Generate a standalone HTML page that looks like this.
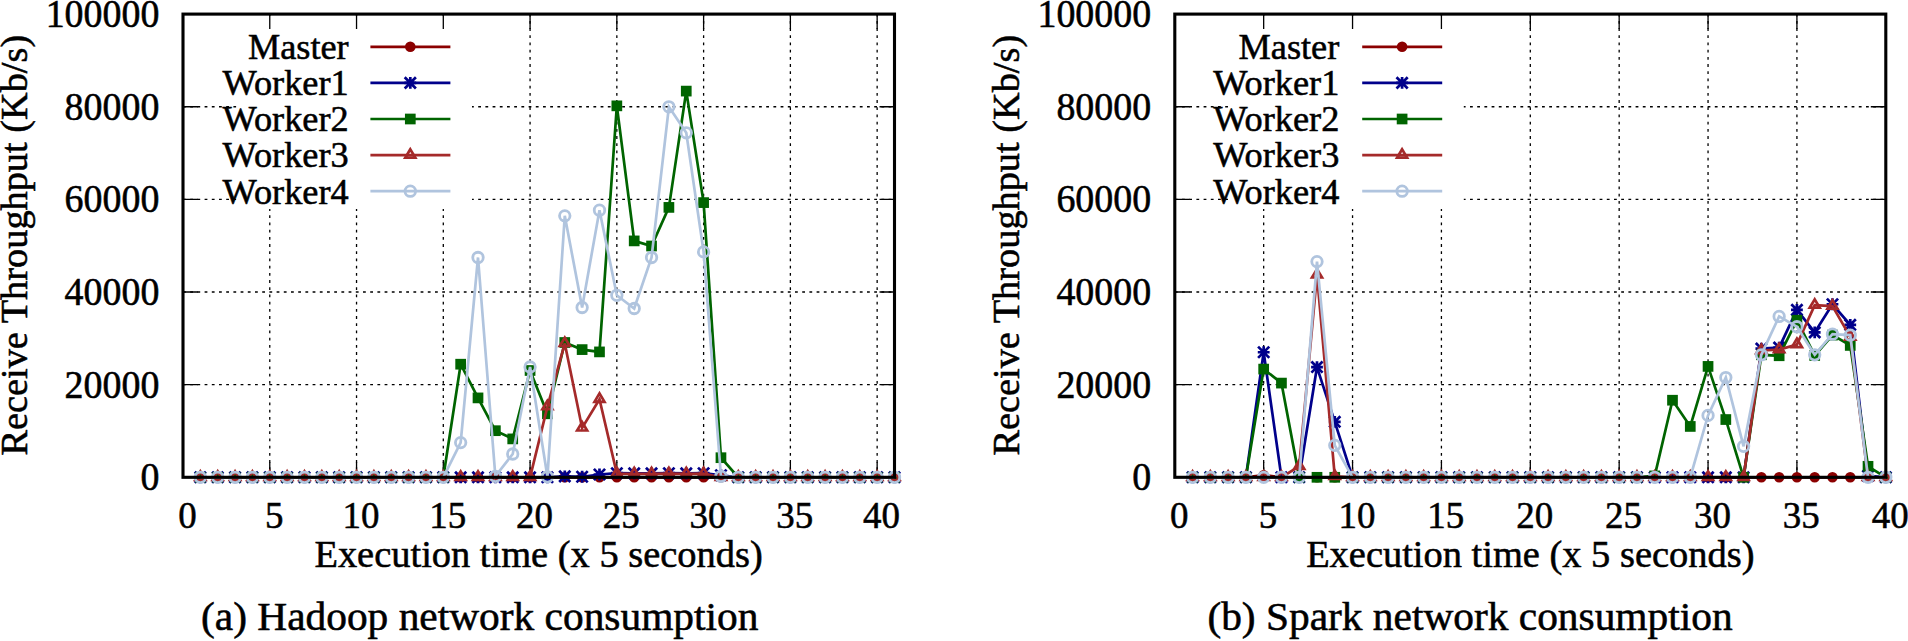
<!DOCTYPE html>
<html><head><meta charset="utf-8"><title>Network consumption</title>
<style>
html,body{margin:0;padding:0;background:#fff;}
body{width:1908px;height:641px;overflow:hidden;}
svg{display:block;}
svg text{font-family:"Liberation Serif",serif;fill:#000;stroke:#000;stroke-width:0.55px;}
</style></head><body>
<svg width="1908" height="641" viewBox="0 0 1908 641">
<rect width="1908" height="641" fill="#fff"/>
<g id="plot-a">
<path d="M269.77 477.3V14.1M356.54 477.3V14.1M443.3 477.3V14.1M530.07 477.3V14.1M616.84 477.3V14.1M703.61 477.3V14.1M790.38 477.3V14.1M877.15 477.3V14.1M183 384.66H894.5M183 292.02H894.5M183 199.38H894.5M183 106.74H894.5" stroke="#000" stroke-width="1.3" stroke-dasharray="2.8 4.4" fill="none"/>
<rect x="236.5" y="16.1" width="235.5" height="192.9" fill="#fff"/>
<text x="348.7" y="59.1" text-anchor="end" font-size="36.3">Master</text>
<path d="M370.4 46.8H450.4" stroke="#8b0000" stroke-width="2.7"/>
<circle cx="410.3" cy="46.8" r="5.3" fill="#8b0000"/>
<text x="348.7" y="95.2" text-anchor="end" font-size="36.3">Worker1</text>
<path d="M370.4 82.9H450.4" stroke="#00008b" stroke-width="2.7"/>
<path d="M404.4 82.9H416.2M410.3 77V88.8M404.7 77.3L415.9 88.5M404.7 88.5L415.9 77.3" stroke="#00008b" stroke-width="2.7" fill="none"/>
<text x="348.7" y="131.3" text-anchor="end" font-size="36.3">Worker2</text>
<path d="M370.4 119H450.4" stroke="#006400" stroke-width="2.7"/>
<rect x="404.95" y="113.65" width="10.7" height="10.7" fill="#006400"/>
<text x="348.7" y="167.4" text-anchor="end" font-size="36.3">Worker3</text>
<path d="M370.4 155.1H450.4" stroke="#a52a2a" stroke-width="2.7"/>
<path d="M410.3 149.3L405.3 157.7L415.3 157.7Z" stroke="#a52a2a" stroke-width="2.7" fill="none" stroke-linejoin="miter" stroke-miterlimit="10"/>
<text x="348.7" y="203.5" text-anchor="end" font-size="36.3">Worker4</text>
<path d="M370.4 191.2H450.4" stroke="#b0c4de" stroke-width="2.7"/>
<circle cx="410.3" cy="191.2" r="5.25" stroke="#b0c4de" stroke-width="2.8" fill="none"/>
<path d="M269.77 477.3v-15M269.77 14.1v15M356.54 477.3v-15M356.54 14.1v15M443.3 477.3v-15M443.3 14.1v15M530.07 477.3v-15M530.07 14.1v15M616.84 477.3v-15M616.84 14.1v15M703.61 477.3v-15M703.61 14.1v15M790.38 477.3v-15M790.38 14.1v15M877.15 477.3v-15M877.15 14.1v15M183 384.66h15M894.5 384.66h-15M183 292.02h15M894.5 292.02h-15M183 199.38h15M894.5 199.38h-15M183 106.74h15M894.5 106.74h-15" stroke="#000" stroke-width="1.3" fill="none"/>
<polyline points="200.35,477.3 217.71,477.3 235.06,477.3 252.41,477.3 269.77,477.3 287.12,477.3 304.48,477.3 321.83,477.3 339.18,477.3 356.54,477.3 373.89,477.3 391.24,477.3 408.6,477.3 425.95,477.3 443.3,477.3 460.66,477.3 478.01,477.3 495.37,477.3 512.72,477.3 530.07,477.3 547.43,477.3 564.78,477.3 582.13,477.3 599.49,477.3 616.84,477.3 634.2,477.3 651.55,477.3 668.9,477.3 686.26,477.3 703.61,477.3 720.96,477.3 738.32,477.3 755.67,477.3 773.02,477.3 790.38,477.3 807.73,477.3 825.09,477.3 842.44,477.3 859.79,477.3 877.15,477.3 894.5,477.3" stroke="#8b0000" stroke-width="2.7" fill="none" stroke-linejoin="miter"/>
<circle cx="200.35" cy="477.3" r="5.3" fill="#8b0000"/>
<circle cx="217.71" cy="477.3" r="5.3" fill="#8b0000"/>
<circle cx="235.06" cy="477.3" r="5.3" fill="#8b0000"/>
<circle cx="252.41" cy="477.3" r="5.3" fill="#8b0000"/>
<circle cx="269.77" cy="477.3" r="5.3" fill="#8b0000"/>
<circle cx="287.12" cy="477.3" r="5.3" fill="#8b0000"/>
<circle cx="304.48" cy="477.3" r="5.3" fill="#8b0000"/>
<circle cx="321.83" cy="477.3" r="5.3" fill="#8b0000"/>
<circle cx="339.18" cy="477.3" r="5.3" fill="#8b0000"/>
<circle cx="356.54" cy="477.3" r="5.3" fill="#8b0000"/>
<circle cx="373.89" cy="477.3" r="5.3" fill="#8b0000"/>
<circle cx="391.24" cy="477.3" r="5.3" fill="#8b0000"/>
<circle cx="408.6" cy="477.3" r="5.3" fill="#8b0000"/>
<circle cx="425.95" cy="477.3" r="5.3" fill="#8b0000"/>
<circle cx="443.3" cy="477.3" r="5.3" fill="#8b0000"/>
<circle cx="460.66" cy="477.3" r="5.3" fill="#8b0000"/>
<circle cx="478.01" cy="477.3" r="5.3" fill="#8b0000"/>
<circle cx="495.37" cy="477.3" r="5.3" fill="#8b0000"/>
<circle cx="512.72" cy="477.3" r="5.3" fill="#8b0000"/>
<circle cx="530.07" cy="477.3" r="5.3" fill="#8b0000"/>
<circle cx="547.43" cy="477.3" r="5.3" fill="#8b0000"/>
<circle cx="564.78" cy="477.3" r="5.3" fill="#8b0000"/>
<circle cx="582.13" cy="477.3" r="5.3" fill="#8b0000"/>
<circle cx="599.49" cy="477.3" r="5.3" fill="#8b0000"/>
<circle cx="616.84" cy="477.3" r="5.3" fill="#8b0000"/>
<circle cx="634.2" cy="477.3" r="5.3" fill="#8b0000"/>
<circle cx="651.55" cy="477.3" r="5.3" fill="#8b0000"/>
<circle cx="668.9" cy="477.3" r="5.3" fill="#8b0000"/>
<circle cx="686.26" cy="477.3" r="5.3" fill="#8b0000"/>
<circle cx="703.61" cy="477.3" r="5.3" fill="#8b0000"/>
<circle cx="720.96" cy="477.3" r="5.3" fill="#8b0000"/>
<circle cx="738.32" cy="477.3" r="5.3" fill="#8b0000"/>
<circle cx="755.67" cy="477.3" r="5.3" fill="#8b0000"/>
<circle cx="773.02" cy="477.3" r="5.3" fill="#8b0000"/>
<circle cx="790.38" cy="477.3" r="5.3" fill="#8b0000"/>
<circle cx="807.73" cy="477.3" r="5.3" fill="#8b0000"/>
<circle cx="825.09" cy="477.3" r="5.3" fill="#8b0000"/>
<circle cx="842.44" cy="477.3" r="5.3" fill="#8b0000"/>
<circle cx="859.79" cy="477.3" r="5.3" fill="#8b0000"/>
<circle cx="877.15" cy="477.3" r="5.3" fill="#8b0000"/>
<circle cx="894.5" cy="477.3" r="5.3" fill="#8b0000"/>
<polyline points="200.35,477.3 217.71,477.3 235.06,477.3 252.41,477.3 269.77,477.3 287.12,477.3 304.48,477.3 321.83,477.3 339.18,477.3 356.54,477.3 373.89,477.3 391.24,477.3 408.6,477.3 425.95,477.3 443.3,477.3 460.66,477.3 478.01,477.3 495.37,477.3 512.72,477.3 530.07,477.3 547.43,477.3 564.78,476.37 582.13,476.74 599.49,474.52 616.84,473.22 634.2,473.32 651.55,473.32 668.9,473.22 686.26,473.32 703.61,473.22 720.96,475.22 738.32,477.3 755.67,477.3 773.02,477.3 790.38,477.3 807.73,477.3 825.09,477.3 842.44,477.3 859.79,477.3 877.15,477.3 894.5,477.3" stroke="#00008b" stroke-width="2.7" fill="none" stroke-linejoin="miter"/>
<path d="M194.45 477.3H206.25M200.35 471.4V483.2M194.75 471.7L205.95 482.9M194.75 482.9L205.95 471.7" stroke="#00008b" stroke-width="2.7" fill="none"/>
<path d="M211.81 477.3H223.61M217.71 471.4V483.2M212.11 471.7L223.31 482.9M212.11 482.9L223.31 471.7" stroke="#00008b" stroke-width="2.7" fill="none"/>
<path d="M229.16 477.3H240.96M235.06 471.4V483.2M229.46 471.7L240.66 482.9M229.46 482.9L240.66 471.7" stroke="#00008b" stroke-width="2.7" fill="none"/>
<path d="M246.51 477.3H258.31M252.41 471.4V483.2M246.81 471.7L258.01 482.9M246.81 482.9L258.01 471.7" stroke="#00008b" stroke-width="2.7" fill="none"/>
<path d="M263.87 477.3H275.67M269.77 471.4V483.2M264.17 471.7L275.37 482.9M264.17 482.9L275.37 471.7" stroke="#00008b" stroke-width="2.7" fill="none"/>
<path d="M281.22 477.3H293.02M287.12 471.4V483.2M281.52 471.7L292.72 482.9M281.52 482.9L292.72 471.7" stroke="#00008b" stroke-width="2.7" fill="none"/>
<path d="M298.58 477.3H310.38M304.48 471.4V483.2M298.88 471.7L310.08 482.9M298.88 482.9L310.08 471.7" stroke="#00008b" stroke-width="2.7" fill="none"/>
<path d="M315.93 477.3H327.73M321.83 471.4V483.2M316.23 471.7L327.43 482.9M316.23 482.9L327.43 471.7" stroke="#00008b" stroke-width="2.7" fill="none"/>
<path d="M333.28 477.3H345.08M339.18 471.4V483.2M333.58 471.7L344.78 482.9M333.58 482.9L344.78 471.7" stroke="#00008b" stroke-width="2.7" fill="none"/>
<path d="M350.64 477.3H362.44M356.54 471.4V483.2M350.94 471.7L362.14 482.9M350.94 482.9L362.14 471.7" stroke="#00008b" stroke-width="2.7" fill="none"/>
<path d="M367.99 477.3H379.79M373.89 471.4V483.2M368.29 471.7L379.49 482.9M368.29 482.9L379.49 471.7" stroke="#00008b" stroke-width="2.7" fill="none"/>
<path d="M385.34 477.3H397.14M391.24 471.4V483.2M385.64 471.7L396.84 482.9M385.64 482.9L396.84 471.7" stroke="#00008b" stroke-width="2.7" fill="none"/>
<path d="M402.7 477.3H414.5M408.6 471.4V483.2M403 471.7L414.2 482.9M403 482.9L414.2 471.7" stroke="#00008b" stroke-width="2.7" fill="none"/>
<path d="M420.05 477.3H431.85M425.95 471.4V483.2M420.35 471.7L431.55 482.9M420.35 482.9L431.55 471.7" stroke="#00008b" stroke-width="2.7" fill="none"/>
<path d="M437.4 477.3H449.2M443.3 471.4V483.2M437.7 471.7L448.9 482.9M437.7 482.9L448.9 471.7" stroke="#00008b" stroke-width="2.7" fill="none"/>
<path d="M454.76 477.3H466.56M460.66 471.4V483.2M455.06 471.7L466.26 482.9M455.06 482.9L466.26 471.7" stroke="#00008b" stroke-width="2.7" fill="none"/>
<path d="M472.11 477.3H483.91M478.01 471.4V483.2M472.41 471.7L483.61 482.9M472.41 482.9L483.61 471.7" stroke="#00008b" stroke-width="2.7" fill="none"/>
<path d="M489.47 477.3H501.27M495.37 471.4V483.2M489.77 471.7L500.97 482.9M489.77 482.9L500.97 471.7" stroke="#00008b" stroke-width="2.7" fill="none"/>
<path d="M506.82 477.3H518.62M512.72 471.4V483.2M507.12 471.7L518.32 482.9M507.12 482.9L518.32 471.7" stroke="#00008b" stroke-width="2.7" fill="none"/>
<path d="M524.17 477.3H535.97M530.07 471.4V483.2M524.47 471.7L535.67 482.9M524.47 482.9L535.67 471.7" stroke="#00008b" stroke-width="2.7" fill="none"/>
<path d="M541.53 477.3H553.33M547.43 471.4V483.2M541.83 471.7L553.03 482.9M541.83 482.9L553.03 471.7" stroke="#00008b" stroke-width="2.7" fill="none"/>
<path d="M558.88 476.37H570.68M564.78 470.47V482.27M559.18 470.77L570.38 481.97M559.18 481.97L570.38 470.77" stroke="#00008b" stroke-width="2.7" fill="none"/>
<path d="M576.23 476.74H588.03M582.13 470.84V482.64M576.53 471.14L587.73 482.34M576.53 482.34L587.73 471.14" stroke="#00008b" stroke-width="2.7" fill="none"/>
<path d="M593.59 474.52H605.39M599.49 468.62V480.42M593.89 468.92L605.09 480.12M593.89 480.12L605.09 468.92" stroke="#00008b" stroke-width="2.7" fill="none"/>
<path d="M610.94 473.22H622.74M616.84 467.32V479.12M611.24 467.62L622.44 478.82M611.24 478.82L622.44 467.62" stroke="#00008b" stroke-width="2.7" fill="none"/>
<path d="M628.3 473.32H640.1M634.2 467.42V479.22M628.6 467.72L639.8 478.92M628.6 478.92L639.8 467.72" stroke="#00008b" stroke-width="2.7" fill="none"/>
<path d="M645.65 473.32H657.45M651.55 467.42V479.22M645.95 467.72L657.15 478.92M645.95 478.92L657.15 467.72" stroke="#00008b" stroke-width="2.7" fill="none"/>
<path d="M663 473.22H674.8M668.9 467.32V479.12M663.3 467.62L674.5 478.82M663.3 478.82L674.5 467.62" stroke="#00008b" stroke-width="2.7" fill="none"/>
<path d="M680.36 473.32H692.16M686.26 467.42V479.22M680.66 467.72L691.86 478.92M680.66 478.92L691.86 467.72" stroke="#00008b" stroke-width="2.7" fill="none"/>
<path d="M697.71 473.22H709.51M703.61 467.32V479.12M698.01 467.62L709.21 478.82M698.01 478.82L709.21 467.62" stroke="#00008b" stroke-width="2.7" fill="none"/>
<path d="M715.06 475.22H726.86M720.96 469.32V481.12M715.36 469.62L726.56 480.82M715.36 480.82L726.56 469.62" stroke="#00008b" stroke-width="2.7" fill="none"/>
<path d="M732.42 477.3H744.22M738.32 471.4V483.2M732.72 471.7L743.92 482.9M732.72 482.9L743.92 471.7" stroke="#00008b" stroke-width="2.7" fill="none"/>
<path d="M749.77 477.3H761.57M755.67 471.4V483.2M750.07 471.7L761.27 482.9M750.07 482.9L761.27 471.7" stroke="#00008b" stroke-width="2.7" fill="none"/>
<path d="M767.12 477.3H778.92M773.02 471.4V483.2M767.42 471.7L778.62 482.9M767.42 482.9L778.62 471.7" stroke="#00008b" stroke-width="2.7" fill="none"/>
<path d="M784.48 477.3H796.28M790.38 471.4V483.2M784.78 471.7L795.98 482.9M784.78 482.9L795.98 471.7" stroke="#00008b" stroke-width="2.7" fill="none"/>
<path d="M801.83 477.3H813.63M807.73 471.4V483.2M802.13 471.7L813.33 482.9M802.13 482.9L813.33 471.7" stroke="#00008b" stroke-width="2.7" fill="none"/>
<path d="M819.19 477.3H830.99M825.09 471.4V483.2M819.49 471.7L830.69 482.9M819.49 482.9L830.69 471.7" stroke="#00008b" stroke-width="2.7" fill="none"/>
<path d="M836.54 477.3H848.34M842.44 471.4V483.2M836.84 471.7L848.04 482.9M836.84 482.9L848.04 471.7" stroke="#00008b" stroke-width="2.7" fill="none"/>
<path d="M853.89 477.3H865.69M859.79 471.4V483.2M854.19 471.7L865.39 482.9M854.19 482.9L865.39 471.7" stroke="#00008b" stroke-width="2.7" fill="none"/>
<path d="M871.25 477.3H883.05M877.15 471.4V483.2M871.55 471.7L882.75 482.9M871.55 482.9L882.75 471.7" stroke="#00008b" stroke-width="2.7" fill="none"/>
<path d="M888.6 477.3H900.4M894.5 471.4V483.2M888.9 471.7L900.1 482.9M888.9 482.9L900.1 471.7" stroke="#00008b" stroke-width="2.7" fill="none"/>
<polyline points="200.35,477.3 217.71,477.3 235.06,477.3 252.41,477.3 269.77,477.3 287.12,477.3 304.48,477.3 321.83,477.3 339.18,477.3 356.54,477.3 373.89,477.3 391.24,477.3 408.6,477.3 425.95,477.3 443.3,477.3 460.66,364.2 478.01,397.9 495.37,430.7 512.72,438.9 530.07,370.5 547.43,413.8 564.78,342.5 582.13,349.6 599.49,351.9 616.84,105.85 634.2,240.9 651.55,246 668.9,207.4 686.26,91.1 703.61,202.6 720.96,457.7 738.32,477.3 755.67,477.3 773.02,477.3 790.38,477.3 807.73,477.3 825.09,477.3 842.44,477.3 859.79,477.3 877.15,477.3 894.5,477.3" stroke="#006400" stroke-width="2.7" fill="none" stroke-linejoin="miter"/>
<rect x="195" y="471.95" width="10.7" height="10.7" fill="#006400"/>
<rect x="212.36" y="471.95" width="10.7" height="10.7" fill="#006400"/>
<rect x="229.71" y="471.95" width="10.7" height="10.7" fill="#006400"/>
<rect x="247.06" y="471.95" width="10.7" height="10.7" fill="#006400"/>
<rect x="264.42" y="471.95" width="10.7" height="10.7" fill="#006400"/>
<rect x="281.77" y="471.95" width="10.7" height="10.7" fill="#006400"/>
<rect x="299.13" y="471.95" width="10.7" height="10.7" fill="#006400"/>
<rect x="316.48" y="471.95" width="10.7" height="10.7" fill="#006400"/>
<rect x="333.83" y="471.95" width="10.7" height="10.7" fill="#006400"/>
<rect x="351.19" y="471.95" width="10.7" height="10.7" fill="#006400"/>
<rect x="368.54" y="471.95" width="10.7" height="10.7" fill="#006400"/>
<rect x="385.89" y="471.95" width="10.7" height="10.7" fill="#006400"/>
<rect x="403.25" y="471.95" width="10.7" height="10.7" fill="#006400"/>
<rect x="420.6" y="471.95" width="10.7" height="10.7" fill="#006400"/>
<rect x="437.95" y="471.95" width="10.7" height="10.7" fill="#006400"/>
<rect x="455.31" y="358.85" width="10.7" height="10.7" fill="#006400"/>
<rect x="472.66" y="392.55" width="10.7" height="10.7" fill="#006400"/>
<rect x="490.02" y="425.35" width="10.7" height="10.7" fill="#006400"/>
<rect x="507.37" y="433.55" width="10.7" height="10.7" fill="#006400"/>
<rect x="524.72" y="365.15" width="10.7" height="10.7" fill="#006400"/>
<rect x="542.08" y="408.45" width="10.7" height="10.7" fill="#006400"/>
<rect x="559.43" y="337.15" width="10.7" height="10.7" fill="#006400"/>
<rect x="576.78" y="344.25" width="10.7" height="10.7" fill="#006400"/>
<rect x="594.14" y="346.55" width="10.7" height="10.7" fill="#006400"/>
<rect x="611.49" y="100.5" width="10.7" height="10.7" fill="#006400"/>
<rect x="628.85" y="235.55" width="10.7" height="10.7" fill="#006400"/>
<rect x="646.2" y="240.65" width="10.7" height="10.7" fill="#006400"/>
<rect x="663.55" y="202.05" width="10.7" height="10.7" fill="#006400"/>
<rect x="680.91" y="85.75" width="10.7" height="10.7" fill="#006400"/>
<rect x="698.26" y="197.25" width="10.7" height="10.7" fill="#006400"/>
<rect x="715.61" y="452.35" width="10.7" height="10.7" fill="#006400"/>
<rect x="732.97" y="471.95" width="10.7" height="10.7" fill="#006400"/>
<rect x="750.32" y="471.95" width="10.7" height="10.7" fill="#006400"/>
<rect x="767.67" y="471.95" width="10.7" height="10.7" fill="#006400"/>
<rect x="785.03" y="471.95" width="10.7" height="10.7" fill="#006400"/>
<rect x="802.38" y="471.95" width="10.7" height="10.7" fill="#006400"/>
<rect x="819.74" y="471.95" width="10.7" height="10.7" fill="#006400"/>
<rect x="837.09" y="471.95" width="10.7" height="10.7" fill="#006400"/>
<rect x="854.44" y="471.95" width="10.7" height="10.7" fill="#006400"/>
<rect x="871.8" y="471.95" width="10.7" height="10.7" fill="#006400"/>
<rect x="889.15" y="471.95" width="10.7" height="10.7" fill="#006400"/>
<polyline points="200.35,477.3 217.71,477.3 235.06,477.3 252.41,477.3 269.77,477.3 287.12,477.3 304.48,477.3 321.83,477.3 339.18,477.3 356.54,477.3 373.89,477.3 391.24,477.3 408.6,477.3 425.95,477.3 443.3,477.3 460.66,477.3 478.01,477.3 495.37,477.3 512.72,477.3 530.07,477.3 547.43,406.6 564.78,343.4 582.13,427.9 599.49,399.2 616.84,473.6 634.2,473.8 651.55,473.8 668.9,473.6 686.26,473.8 703.61,473.6 720.96,477.3 738.32,477.3 755.67,477.3 773.02,477.3 790.38,477.3 807.73,477.3 825.09,477.3 842.44,477.3 859.79,477.3 877.15,477.3 894.5,477.3" stroke="#a52a2a" stroke-width="2.7" fill="none" stroke-linejoin="miter"/>
<path d="M200.35 471.5L195.35 479.9L205.35 479.9Z" stroke="#a52a2a" stroke-width="2.7" fill="none" stroke-linejoin="miter" stroke-miterlimit="10"/>
<path d="M217.71 471.5L212.71 479.9L222.71 479.9Z" stroke="#a52a2a" stroke-width="2.7" fill="none" stroke-linejoin="miter" stroke-miterlimit="10"/>
<path d="M235.06 471.5L230.06 479.9L240.06 479.9Z" stroke="#a52a2a" stroke-width="2.7" fill="none" stroke-linejoin="miter" stroke-miterlimit="10"/>
<path d="M252.41 471.5L247.41 479.9L257.41 479.9Z" stroke="#a52a2a" stroke-width="2.7" fill="none" stroke-linejoin="miter" stroke-miterlimit="10"/>
<path d="M269.77 471.5L264.77 479.9L274.77 479.9Z" stroke="#a52a2a" stroke-width="2.7" fill="none" stroke-linejoin="miter" stroke-miterlimit="10"/>
<path d="M287.12 471.5L282.12 479.9L292.12 479.9Z" stroke="#a52a2a" stroke-width="2.7" fill="none" stroke-linejoin="miter" stroke-miterlimit="10"/>
<path d="M304.48 471.5L299.48 479.9L309.48 479.9Z" stroke="#a52a2a" stroke-width="2.7" fill="none" stroke-linejoin="miter" stroke-miterlimit="10"/>
<path d="M321.83 471.5L316.83 479.9L326.83 479.9Z" stroke="#a52a2a" stroke-width="2.7" fill="none" stroke-linejoin="miter" stroke-miterlimit="10"/>
<path d="M339.18 471.5L334.18 479.9L344.18 479.9Z" stroke="#a52a2a" stroke-width="2.7" fill="none" stroke-linejoin="miter" stroke-miterlimit="10"/>
<path d="M356.54 471.5L351.54 479.9L361.54 479.9Z" stroke="#a52a2a" stroke-width="2.7" fill="none" stroke-linejoin="miter" stroke-miterlimit="10"/>
<path d="M373.89 471.5L368.89 479.9L378.89 479.9Z" stroke="#a52a2a" stroke-width="2.7" fill="none" stroke-linejoin="miter" stroke-miterlimit="10"/>
<path d="M391.24 471.5L386.24 479.9L396.24 479.9Z" stroke="#a52a2a" stroke-width="2.7" fill="none" stroke-linejoin="miter" stroke-miterlimit="10"/>
<path d="M408.6 471.5L403.6 479.9L413.6 479.9Z" stroke="#a52a2a" stroke-width="2.7" fill="none" stroke-linejoin="miter" stroke-miterlimit="10"/>
<path d="M425.95 471.5L420.95 479.9L430.95 479.9Z" stroke="#a52a2a" stroke-width="2.7" fill="none" stroke-linejoin="miter" stroke-miterlimit="10"/>
<path d="M443.3 471.5L438.3 479.9L448.3 479.9Z" stroke="#a52a2a" stroke-width="2.7" fill="none" stroke-linejoin="miter" stroke-miterlimit="10"/>
<path d="M460.66 471.5L455.66 479.9L465.66 479.9Z" stroke="#a52a2a" stroke-width="2.7" fill="none" stroke-linejoin="miter" stroke-miterlimit="10"/>
<path d="M478.01 471.5L473.01 479.9L483.01 479.9Z" stroke="#a52a2a" stroke-width="2.7" fill="none" stroke-linejoin="miter" stroke-miterlimit="10"/>
<path d="M495.37 471.5L490.37 479.9L500.37 479.9Z" stroke="#a52a2a" stroke-width="2.7" fill="none" stroke-linejoin="miter" stroke-miterlimit="10"/>
<path d="M512.72 471.5L507.72 479.9L517.72 479.9Z" stroke="#a52a2a" stroke-width="2.7" fill="none" stroke-linejoin="miter" stroke-miterlimit="10"/>
<path d="M530.07 471.5L525.07 479.9L535.07 479.9Z" stroke="#a52a2a" stroke-width="2.7" fill="none" stroke-linejoin="miter" stroke-miterlimit="10"/>
<path d="M547.43 400.8L542.43 409.2L552.43 409.2Z" stroke="#a52a2a" stroke-width="2.7" fill="none" stroke-linejoin="miter" stroke-miterlimit="10"/>
<path d="M564.78 337.6L559.78 346L569.78 346Z" stroke="#a52a2a" stroke-width="2.7" fill="none" stroke-linejoin="miter" stroke-miterlimit="10"/>
<path d="M582.13 422.1L577.13 430.5L587.13 430.5Z" stroke="#a52a2a" stroke-width="2.7" fill="none" stroke-linejoin="miter" stroke-miterlimit="10"/>
<path d="M599.49 393.4L594.49 401.8L604.49 401.8Z" stroke="#a52a2a" stroke-width="2.7" fill="none" stroke-linejoin="miter" stroke-miterlimit="10"/>
<path d="M616.84 467.8L611.84 476.2L621.84 476.2Z" stroke="#a52a2a" stroke-width="2.7" fill="none" stroke-linejoin="miter" stroke-miterlimit="10"/>
<path d="M634.2 468L629.2 476.4L639.2 476.4Z" stroke="#a52a2a" stroke-width="2.7" fill="none" stroke-linejoin="miter" stroke-miterlimit="10"/>
<path d="M651.55 468L646.55 476.4L656.55 476.4Z" stroke="#a52a2a" stroke-width="2.7" fill="none" stroke-linejoin="miter" stroke-miterlimit="10"/>
<path d="M668.9 467.8L663.9 476.2L673.9 476.2Z" stroke="#a52a2a" stroke-width="2.7" fill="none" stroke-linejoin="miter" stroke-miterlimit="10"/>
<path d="M686.26 468L681.26 476.4L691.26 476.4Z" stroke="#a52a2a" stroke-width="2.7" fill="none" stroke-linejoin="miter" stroke-miterlimit="10"/>
<path d="M703.61 467.8L698.61 476.2L708.61 476.2Z" stroke="#a52a2a" stroke-width="2.7" fill="none" stroke-linejoin="miter" stroke-miterlimit="10"/>
<path d="M720.96 471.5L715.96 479.9L725.96 479.9Z" stroke="#a52a2a" stroke-width="2.7" fill="none" stroke-linejoin="miter" stroke-miterlimit="10"/>
<path d="M738.32 471.5L733.32 479.9L743.32 479.9Z" stroke="#a52a2a" stroke-width="2.7" fill="none" stroke-linejoin="miter" stroke-miterlimit="10"/>
<path d="M755.67 471.5L750.67 479.9L760.67 479.9Z" stroke="#a52a2a" stroke-width="2.7" fill="none" stroke-linejoin="miter" stroke-miterlimit="10"/>
<path d="M773.02 471.5L768.02 479.9L778.02 479.9Z" stroke="#a52a2a" stroke-width="2.7" fill="none" stroke-linejoin="miter" stroke-miterlimit="10"/>
<path d="M790.38 471.5L785.38 479.9L795.38 479.9Z" stroke="#a52a2a" stroke-width="2.7" fill="none" stroke-linejoin="miter" stroke-miterlimit="10"/>
<path d="M807.73 471.5L802.73 479.9L812.73 479.9Z" stroke="#a52a2a" stroke-width="2.7" fill="none" stroke-linejoin="miter" stroke-miterlimit="10"/>
<path d="M825.09 471.5L820.09 479.9L830.09 479.9Z" stroke="#a52a2a" stroke-width="2.7" fill="none" stroke-linejoin="miter" stroke-miterlimit="10"/>
<path d="M842.44 471.5L837.44 479.9L847.44 479.9Z" stroke="#a52a2a" stroke-width="2.7" fill="none" stroke-linejoin="miter" stroke-miterlimit="10"/>
<path d="M859.79 471.5L854.79 479.9L864.79 479.9Z" stroke="#a52a2a" stroke-width="2.7" fill="none" stroke-linejoin="miter" stroke-miterlimit="10"/>
<path d="M877.15 471.5L872.15 479.9L882.15 479.9Z" stroke="#a52a2a" stroke-width="2.7" fill="none" stroke-linejoin="miter" stroke-miterlimit="10"/>
<path d="M894.5 471.5L889.5 479.9L899.5 479.9Z" stroke="#a52a2a" stroke-width="2.7" fill="none" stroke-linejoin="miter" stroke-miterlimit="10"/>
<polyline points="200.35,477.3 217.71,477.3 235.06,477.3 252.41,477.3 269.77,477.3 287.12,477.3 304.48,477.3 321.83,477.3 339.18,477.3 356.54,477.3 373.89,477.3 391.24,477.3 408.6,477.3 425.95,477.3 443.3,477.3 460.66,442.6 478.01,257.5 495.37,476.3 512.72,454 530.07,367 547.43,476.8 564.78,215.85 582.13,307.5 599.49,210.2 616.84,295.3 634.2,308.5 651.55,257.5 668.9,106.8 686.26,132.8 703.61,251.9 720.96,476.3 738.32,477.3 755.67,477.3 773.02,477.3 790.38,477.3 807.73,477.3 825.09,477.3 842.44,477.3 859.79,477.3 877.15,477.3 894.5,477.3" stroke="#b0c4de" stroke-width="2.7" fill="none" stroke-linejoin="miter"/>
<circle cx="200.35" cy="477.3" r="5.25" stroke="#b0c4de" stroke-width="2.8" fill="none"/>
<circle cx="217.71" cy="477.3" r="5.25" stroke="#b0c4de" stroke-width="2.8" fill="none"/>
<circle cx="235.06" cy="477.3" r="5.25" stroke="#b0c4de" stroke-width="2.8" fill="none"/>
<circle cx="252.41" cy="477.3" r="5.25" stroke="#b0c4de" stroke-width="2.8" fill="none"/>
<circle cx="269.77" cy="477.3" r="5.25" stroke="#b0c4de" stroke-width="2.8" fill="none"/>
<circle cx="287.12" cy="477.3" r="5.25" stroke="#b0c4de" stroke-width="2.8" fill="none"/>
<circle cx="304.48" cy="477.3" r="5.25" stroke="#b0c4de" stroke-width="2.8" fill="none"/>
<circle cx="321.83" cy="477.3" r="5.25" stroke="#b0c4de" stroke-width="2.8" fill="none"/>
<circle cx="339.18" cy="477.3" r="5.25" stroke="#b0c4de" stroke-width="2.8" fill="none"/>
<circle cx="356.54" cy="477.3" r="5.25" stroke="#b0c4de" stroke-width="2.8" fill="none"/>
<circle cx="373.89" cy="477.3" r="5.25" stroke="#b0c4de" stroke-width="2.8" fill="none"/>
<circle cx="391.24" cy="477.3" r="5.25" stroke="#b0c4de" stroke-width="2.8" fill="none"/>
<circle cx="408.6" cy="477.3" r="5.25" stroke="#b0c4de" stroke-width="2.8" fill="none"/>
<circle cx="425.95" cy="477.3" r="5.25" stroke="#b0c4de" stroke-width="2.8" fill="none"/>
<circle cx="443.3" cy="477.3" r="5.25" stroke="#b0c4de" stroke-width="2.8" fill="none"/>
<circle cx="460.66" cy="442.6" r="5.25" stroke="#b0c4de" stroke-width="2.8" fill="none"/>
<circle cx="478.01" cy="257.5" r="5.25" stroke="#b0c4de" stroke-width="2.8" fill="none"/>
<circle cx="495.37" cy="476.3" r="5.25" stroke="#b0c4de" stroke-width="2.8" fill="none"/>
<circle cx="512.72" cy="454" r="5.25" stroke="#b0c4de" stroke-width="2.8" fill="none"/>
<circle cx="530.07" cy="367" r="5.25" stroke="#b0c4de" stroke-width="2.8" fill="none"/>
<circle cx="547.43" cy="476.8" r="5.25" stroke="#b0c4de" stroke-width="2.8" fill="none"/>
<circle cx="564.78" cy="215.85" r="5.25" stroke="#b0c4de" stroke-width="2.8" fill="none"/>
<circle cx="582.13" cy="307.5" r="5.25" stroke="#b0c4de" stroke-width="2.8" fill="none"/>
<circle cx="599.49" cy="210.2" r="5.25" stroke="#b0c4de" stroke-width="2.8" fill="none"/>
<circle cx="616.84" cy="295.3" r="5.25" stroke="#b0c4de" stroke-width="2.8" fill="none"/>
<circle cx="634.2" cy="308.5" r="5.25" stroke="#b0c4de" stroke-width="2.8" fill="none"/>
<circle cx="651.55" cy="257.5" r="5.25" stroke="#b0c4de" stroke-width="2.8" fill="none"/>
<circle cx="668.9" cy="106.8" r="5.25" stroke="#b0c4de" stroke-width="2.8" fill="none"/>
<circle cx="686.26" cy="132.8" r="5.25" stroke="#b0c4de" stroke-width="2.8" fill="none"/>
<circle cx="703.61" cy="251.9" r="5.25" stroke="#b0c4de" stroke-width="2.8" fill="none"/>
<circle cx="720.96" cy="476.3" r="5.25" stroke="#b0c4de" stroke-width="2.8" fill="none"/>
<circle cx="738.32" cy="477.3" r="5.25" stroke="#b0c4de" stroke-width="2.8" fill="none"/>
<circle cx="755.67" cy="477.3" r="5.25" stroke="#b0c4de" stroke-width="2.8" fill="none"/>
<circle cx="773.02" cy="477.3" r="5.25" stroke="#b0c4de" stroke-width="2.8" fill="none"/>
<circle cx="790.38" cy="477.3" r="5.25" stroke="#b0c4de" stroke-width="2.8" fill="none"/>
<circle cx="807.73" cy="477.3" r="5.25" stroke="#b0c4de" stroke-width="2.8" fill="none"/>
<circle cx="825.09" cy="477.3" r="5.25" stroke="#b0c4de" stroke-width="2.8" fill="none"/>
<circle cx="842.44" cy="477.3" r="5.25" stroke="#b0c4de" stroke-width="2.8" fill="none"/>
<circle cx="859.79" cy="477.3" r="5.25" stroke="#b0c4de" stroke-width="2.8" fill="none"/>
<circle cx="877.15" cy="477.3" r="5.25" stroke="#b0c4de" stroke-width="2.8" fill="none"/>
<circle cx="894.5" cy="477.3" r="5.25" stroke="#b0c4de" stroke-width="2.8" fill="none"/>
<rect x="183" y="14.1" width="711.5" height="463.2" fill="none" stroke="#000" stroke-width="3.1"/>
</g>
<g id="plot-b">
<path d="M1263.67 477.3V14.1M1352.55 477.3V14.1M1441.42 477.3V14.1M1530.3 477.3V14.1M1619.17 477.3V14.1M1708.05 477.3V14.1M1796.92 477.3V14.1M1174.8 384.66H1885.8M1174.8 292.02H1885.8M1174.8 199.38H1885.8M1174.8 106.74H1885.8" stroke="#000" stroke-width="1.3" stroke-dasharray="2.8 4.4" fill="none"/>
<rect x="1228.3" y="16.1" width="235.5" height="192.9" fill="#fff"/>
<text x="1339.3" y="59.1" text-anchor="end" font-size="36.3">Master</text>
<path d="M1362.2 46.8H1442.2" stroke="#8b0000" stroke-width="2.7"/>
<circle cx="1402.1" cy="46.8" r="5.3" fill="#8b0000"/>
<text x="1339.3" y="95.2" text-anchor="end" font-size="36.3">Worker1</text>
<path d="M1362.2 82.9H1442.2" stroke="#00008b" stroke-width="2.7"/>
<path d="M1396.2 82.9H1408M1402.1 77V88.8M1396.5 77.3L1407.7 88.5M1396.5 88.5L1407.7 77.3" stroke="#00008b" stroke-width="2.7" fill="none"/>
<text x="1339.3" y="131.3" text-anchor="end" font-size="36.3">Worker2</text>
<path d="M1362.2 119H1442.2" stroke="#006400" stroke-width="2.7"/>
<rect x="1396.75" y="113.65" width="10.7" height="10.7" fill="#006400"/>
<text x="1339.3" y="167.4" text-anchor="end" font-size="36.3">Worker3</text>
<path d="M1362.2 155.1H1442.2" stroke="#a52a2a" stroke-width="2.7"/>
<path d="M1402.1 149.3L1397.1 157.7L1407.1 157.7Z" stroke="#a52a2a" stroke-width="2.7" fill="none" stroke-linejoin="miter" stroke-miterlimit="10"/>
<text x="1339.3" y="203.5" text-anchor="end" font-size="36.3">Worker4</text>
<path d="M1362.2 191.2H1442.2" stroke="#b0c4de" stroke-width="2.7"/>
<circle cx="1402.1" cy="191.2" r="5.25" stroke="#b0c4de" stroke-width="2.8" fill="none"/>
<path d="M1263.67 477.3v-15M1263.67 14.1v15M1352.55 477.3v-15M1352.55 14.1v15M1441.42 477.3v-15M1441.42 14.1v15M1530.3 477.3v-15M1530.3 14.1v15M1619.17 477.3v-15M1619.17 14.1v15M1708.05 477.3v-15M1708.05 14.1v15M1796.92 477.3v-15M1796.92 14.1v15M1174.8 384.66h15M1885.8 384.66h-15M1174.8 292.02h15M1885.8 292.02h-15M1174.8 199.38h15M1885.8 199.38h-15M1174.8 106.74h15M1885.8 106.74h-15" stroke="#000" stroke-width="1.3" fill="none"/>
<polyline points="1192.58,477.3 1210.35,477.3 1228.12,477.3 1245.9,477.3 1263.67,475.22 1281.45,477.3 1299.22,477.3 1317,477.3 1334.77,477.3 1352.55,477.3 1370.32,477.3 1388.1,477.3 1405.88,477.3 1423.65,477.3 1441.42,477.3 1459.2,477.3 1476.97,477.3 1494.75,477.3 1512.52,477.3 1530.3,477.3 1548.07,477.3 1565.85,477.3 1583.62,477.3 1601.4,477.3 1619.17,477.3 1636.95,477.3 1654.72,477.3 1672.5,477.3 1690.27,477.3 1708.05,477.3 1725.82,477.3 1743.6,477.3 1761.38,477.3 1779.15,477.3 1796.92,477.3 1814.7,477.3 1832.47,477.3 1850.25,477.3 1868.02,477.3 1885.8,477.3" stroke="#8b0000" stroke-width="2.7" fill="none" stroke-linejoin="miter"/>
<circle cx="1192.58" cy="477.3" r="5.3" fill="#8b0000"/>
<circle cx="1210.35" cy="477.3" r="5.3" fill="#8b0000"/>
<circle cx="1228.12" cy="477.3" r="5.3" fill="#8b0000"/>
<circle cx="1245.9" cy="477.3" r="5.3" fill="#8b0000"/>
<circle cx="1263.67" cy="475.22" r="5.3" fill="#8b0000"/>
<circle cx="1281.45" cy="477.3" r="5.3" fill="#8b0000"/>
<circle cx="1299.22" cy="477.3" r="5.3" fill="#8b0000"/>
<circle cx="1317" cy="477.3" r="5.3" fill="#8b0000"/>
<circle cx="1334.77" cy="477.3" r="5.3" fill="#8b0000"/>
<circle cx="1352.55" cy="477.3" r="5.3" fill="#8b0000"/>
<circle cx="1370.32" cy="477.3" r="5.3" fill="#8b0000"/>
<circle cx="1388.1" cy="477.3" r="5.3" fill="#8b0000"/>
<circle cx="1405.88" cy="477.3" r="5.3" fill="#8b0000"/>
<circle cx="1423.65" cy="477.3" r="5.3" fill="#8b0000"/>
<circle cx="1441.42" cy="477.3" r="5.3" fill="#8b0000"/>
<circle cx="1459.2" cy="477.3" r="5.3" fill="#8b0000"/>
<circle cx="1476.97" cy="477.3" r="5.3" fill="#8b0000"/>
<circle cx="1494.75" cy="477.3" r="5.3" fill="#8b0000"/>
<circle cx="1512.52" cy="477.3" r="5.3" fill="#8b0000"/>
<circle cx="1530.3" cy="477.3" r="5.3" fill="#8b0000"/>
<circle cx="1548.07" cy="477.3" r="5.3" fill="#8b0000"/>
<circle cx="1565.85" cy="477.3" r="5.3" fill="#8b0000"/>
<circle cx="1583.62" cy="477.3" r="5.3" fill="#8b0000"/>
<circle cx="1601.4" cy="477.3" r="5.3" fill="#8b0000"/>
<circle cx="1619.17" cy="477.3" r="5.3" fill="#8b0000"/>
<circle cx="1636.95" cy="477.3" r="5.3" fill="#8b0000"/>
<circle cx="1654.72" cy="477.3" r="5.3" fill="#8b0000"/>
<circle cx="1672.5" cy="477.3" r="5.3" fill="#8b0000"/>
<circle cx="1690.27" cy="477.3" r="5.3" fill="#8b0000"/>
<circle cx="1708.05" cy="477.3" r="5.3" fill="#8b0000"/>
<circle cx="1725.82" cy="477.3" r="5.3" fill="#8b0000"/>
<circle cx="1743.6" cy="477.3" r="5.3" fill="#8b0000"/>
<circle cx="1761.38" cy="477.3" r="5.3" fill="#8b0000"/>
<circle cx="1779.15" cy="477.3" r="5.3" fill="#8b0000"/>
<circle cx="1796.92" cy="477.3" r="5.3" fill="#8b0000"/>
<circle cx="1814.7" cy="477.3" r="5.3" fill="#8b0000"/>
<circle cx="1832.47" cy="477.3" r="5.3" fill="#8b0000"/>
<circle cx="1850.25" cy="477.3" r="5.3" fill="#8b0000"/>
<circle cx="1868.02" cy="477.3" r="5.3" fill="#8b0000"/>
<circle cx="1885.8" cy="477.3" r="5.3" fill="#8b0000"/>
<polyline points="1192.58,477.3 1210.35,477.3 1228.12,477.3 1245.9,477.3 1263.67,352.24 1281.45,477.3 1299.22,477.3 1317,367.06 1334.77,421.81 1352.55,477.3 1370.32,477.3 1388.1,477.3 1405.88,477.3 1423.65,477.3 1441.42,477.3 1459.2,477.3 1476.97,477.3 1494.75,477.3 1512.52,477.3 1530.3,477.3 1548.07,477.3 1565.85,477.3 1583.62,477.3 1601.4,477.3 1619.17,477.3 1636.95,477.3 1654.72,477.3 1672.5,477.3 1690.27,477.3 1708.05,477.3 1725.82,477.3 1743.6,477.3 1761.38,348.53 1779.15,347.6 1796.92,309.85 1814.7,332.36 1832.47,304.25 1850.25,324.91 1868.02,475.91 1885.8,477.3" stroke="#00008b" stroke-width="2.7" fill="none" stroke-linejoin="miter"/>
<path d="M1186.67 477.3H1198.48M1192.58 471.4V483.2M1186.98 471.7L1198.17 482.9M1186.98 482.9L1198.17 471.7" stroke="#00008b" stroke-width="2.7" fill="none"/>
<path d="M1204.45 477.3H1216.25M1210.35 471.4V483.2M1204.75 471.7L1215.95 482.9M1204.75 482.9L1215.95 471.7" stroke="#00008b" stroke-width="2.7" fill="none"/>
<path d="M1222.22 477.3H1234.03M1228.12 471.4V483.2M1222.53 471.7L1233.72 482.9M1222.53 482.9L1233.72 471.7" stroke="#00008b" stroke-width="2.7" fill="none"/>
<path d="M1240 477.3H1251.8M1245.9 471.4V483.2M1240.3 471.7L1251.5 482.9M1240.3 482.9L1251.5 471.7" stroke="#00008b" stroke-width="2.7" fill="none"/>
<path d="M1257.77 352.24H1269.58M1263.67 346.34V358.14M1258.08 346.64L1269.27 357.84M1258.08 357.84L1269.27 346.64" stroke="#00008b" stroke-width="2.7" fill="none"/>
<path d="M1275.55 477.3H1287.35M1281.45 471.4V483.2M1275.85 471.7L1287.05 482.9M1275.85 482.9L1287.05 471.7" stroke="#00008b" stroke-width="2.7" fill="none"/>
<path d="M1293.32 477.3H1305.12M1299.22 471.4V483.2M1293.62 471.7L1304.82 482.9M1293.62 482.9L1304.82 471.7" stroke="#00008b" stroke-width="2.7" fill="none"/>
<path d="M1311.1 367.06H1322.9M1317 361.16V372.96M1311.4 361.46L1322.6 372.66M1311.4 372.66L1322.6 361.46" stroke="#00008b" stroke-width="2.7" fill="none"/>
<path d="M1328.87 421.81H1340.67M1334.77 415.91V427.71M1329.17 416.21L1340.37 427.41M1329.17 427.41L1340.37 416.21" stroke="#00008b" stroke-width="2.7" fill="none"/>
<path d="M1346.65 477.3H1358.45M1352.55 471.4V483.2M1346.95 471.7L1358.15 482.9M1346.95 482.9L1358.15 471.7" stroke="#00008b" stroke-width="2.7" fill="none"/>
<path d="M1364.42 477.3H1376.22M1370.32 471.4V483.2M1364.72 471.7L1375.92 482.9M1364.72 482.9L1375.92 471.7" stroke="#00008b" stroke-width="2.7" fill="none"/>
<path d="M1382.2 477.3H1394M1388.1 471.4V483.2M1382.5 471.7L1393.7 482.9M1382.5 482.9L1393.7 471.7" stroke="#00008b" stroke-width="2.7" fill="none"/>
<path d="M1399.97 477.3H1411.78M1405.88 471.4V483.2M1400.28 471.7L1411.47 482.9M1400.28 482.9L1411.47 471.7" stroke="#00008b" stroke-width="2.7" fill="none"/>
<path d="M1417.75 477.3H1429.55M1423.65 471.4V483.2M1418.05 471.7L1429.25 482.9M1418.05 482.9L1429.25 471.7" stroke="#00008b" stroke-width="2.7" fill="none"/>
<path d="M1435.52 477.3H1447.33M1441.42 471.4V483.2M1435.83 471.7L1447.02 482.9M1435.83 482.9L1447.02 471.7" stroke="#00008b" stroke-width="2.7" fill="none"/>
<path d="M1453.3 477.3H1465.1M1459.2 471.4V483.2M1453.6 471.7L1464.8 482.9M1453.6 482.9L1464.8 471.7" stroke="#00008b" stroke-width="2.7" fill="none"/>
<path d="M1471.07 477.3H1482.88M1476.97 471.4V483.2M1471.38 471.7L1482.57 482.9M1471.38 482.9L1482.57 471.7" stroke="#00008b" stroke-width="2.7" fill="none"/>
<path d="M1488.85 477.3H1500.65M1494.75 471.4V483.2M1489.15 471.7L1500.35 482.9M1489.15 482.9L1500.35 471.7" stroke="#00008b" stroke-width="2.7" fill="none"/>
<path d="M1506.62 477.3H1518.42M1512.52 471.4V483.2M1506.92 471.7L1518.12 482.9M1506.92 482.9L1518.12 471.7" stroke="#00008b" stroke-width="2.7" fill="none"/>
<path d="M1524.4 477.3H1536.2M1530.3 471.4V483.2M1524.7 471.7L1535.9 482.9M1524.7 482.9L1535.9 471.7" stroke="#00008b" stroke-width="2.7" fill="none"/>
<path d="M1542.17 477.3H1553.97M1548.07 471.4V483.2M1542.47 471.7L1553.67 482.9M1542.47 482.9L1553.67 471.7" stroke="#00008b" stroke-width="2.7" fill="none"/>
<path d="M1559.95 477.3H1571.75M1565.85 471.4V483.2M1560.25 471.7L1571.45 482.9M1560.25 482.9L1571.45 471.7" stroke="#00008b" stroke-width="2.7" fill="none"/>
<path d="M1577.72 477.3H1589.53M1583.62 471.4V483.2M1578.03 471.7L1589.22 482.9M1578.03 482.9L1589.22 471.7" stroke="#00008b" stroke-width="2.7" fill="none"/>
<path d="M1595.5 477.3H1607.3M1601.4 471.4V483.2M1595.8 471.7L1607 482.9M1595.8 482.9L1607 471.7" stroke="#00008b" stroke-width="2.7" fill="none"/>
<path d="M1613.27 477.3H1625.08M1619.17 471.4V483.2M1613.58 471.7L1624.77 482.9M1613.58 482.9L1624.77 471.7" stroke="#00008b" stroke-width="2.7" fill="none"/>
<path d="M1631.05 477.3H1642.85M1636.95 471.4V483.2M1631.35 471.7L1642.55 482.9M1631.35 482.9L1642.55 471.7" stroke="#00008b" stroke-width="2.7" fill="none"/>
<path d="M1648.82 477.3H1660.62M1654.72 471.4V483.2M1649.12 471.7L1660.32 482.9M1649.12 482.9L1660.32 471.7" stroke="#00008b" stroke-width="2.7" fill="none"/>
<path d="M1666.6 477.3H1678.4M1672.5 471.4V483.2M1666.9 471.7L1678.1 482.9M1666.9 482.9L1678.1 471.7" stroke="#00008b" stroke-width="2.7" fill="none"/>
<path d="M1684.37 477.3H1696.17M1690.27 471.4V483.2M1684.67 471.7L1695.87 482.9M1684.67 482.9L1695.87 471.7" stroke="#00008b" stroke-width="2.7" fill="none"/>
<path d="M1702.15 477.3H1713.95M1708.05 471.4V483.2M1702.45 471.7L1713.65 482.9M1702.45 482.9L1713.65 471.7" stroke="#00008b" stroke-width="2.7" fill="none"/>
<path d="M1719.92 477.3H1731.72M1725.82 471.4V483.2M1720.22 471.7L1731.42 482.9M1720.22 482.9L1731.42 471.7" stroke="#00008b" stroke-width="2.7" fill="none"/>
<path d="M1737.7 477.3H1749.5M1743.6 471.4V483.2M1738 471.7L1749.2 482.9M1738 482.9L1749.2 471.7" stroke="#00008b" stroke-width="2.7" fill="none"/>
<path d="M1755.47 348.53H1767.28M1761.38 342.63V354.43M1755.78 342.93L1766.97 354.13M1755.78 354.13L1766.97 342.93" stroke="#00008b" stroke-width="2.7" fill="none"/>
<path d="M1773.25 347.6H1785.05M1779.15 341.7V353.5M1773.55 342L1784.75 353.2M1773.55 353.2L1784.75 342" stroke="#00008b" stroke-width="2.7" fill="none"/>
<path d="M1791.02 309.85H1802.83M1796.92 303.95V315.75M1791.33 304.25L1802.52 315.45M1791.33 315.45L1802.52 304.25" stroke="#00008b" stroke-width="2.7" fill="none"/>
<path d="M1808.8 332.36H1820.6M1814.7 326.46V338.26M1809.1 326.76L1820.3 337.96M1809.1 337.96L1820.3 326.76" stroke="#00008b" stroke-width="2.7" fill="none"/>
<path d="M1826.57 304.25H1838.38M1832.47 298.35V310.15M1826.88 298.65L1838.07 309.85M1826.88 309.85L1838.07 298.65" stroke="#00008b" stroke-width="2.7" fill="none"/>
<path d="M1844.35 324.91H1856.15M1850.25 319.01V330.81M1844.65 319.31L1855.85 330.51M1844.65 330.51L1855.85 319.31" stroke="#00008b" stroke-width="2.7" fill="none"/>
<path d="M1862.12 475.91H1873.92M1868.02 470.01V481.81M1862.42 470.31L1873.62 481.51M1862.42 481.51L1873.62 470.31" stroke="#00008b" stroke-width="2.7" fill="none"/>
<path d="M1879.9 477.3H1891.7M1885.8 471.4V483.2M1880.2 471.7L1891.4 482.9M1880.2 482.9L1891.4 471.7" stroke="#00008b" stroke-width="2.7" fill="none"/>
<polyline points="1192.58,477.3 1210.35,477.3 1228.12,477.3 1245.9,477.3 1263.67,369.1 1281.45,383.09 1299.22,477.3 1317,477.3 1334.77,477.3 1352.55,477.3 1370.32,477.3 1388.1,477.3 1405.88,477.3 1423.65,477.3 1441.42,477.3 1459.2,477.3 1476.97,477.3 1494.75,477.3 1512.52,477.3 1530.3,477.3 1548.07,477.3 1565.85,477.3 1583.62,477.3 1601.4,477.3 1619.17,477.3 1636.95,477.3 1654.72,475.91 1672.5,400.22 1690.27,426.44 1708.05,366.41 1725.82,419.54 1743.6,477.3 1761.38,354.78 1779.15,355.76 1796.92,320.18 1814.7,355.48 1832.47,335.1 1850.25,345.43 1868.02,466.32 1885.8,477.3" stroke="#006400" stroke-width="2.7" fill="none" stroke-linejoin="miter"/>
<rect x="1187.23" y="471.95" width="10.7" height="10.7" fill="#006400"/>
<rect x="1205" y="471.95" width="10.7" height="10.7" fill="#006400"/>
<rect x="1222.78" y="471.95" width="10.7" height="10.7" fill="#006400"/>
<rect x="1240.55" y="471.95" width="10.7" height="10.7" fill="#006400"/>
<rect x="1258.33" y="363.75" width="10.7" height="10.7" fill="#006400"/>
<rect x="1276.1" y="377.74" width="10.7" height="10.7" fill="#006400"/>
<rect x="1293.88" y="471.95" width="10.7" height="10.7" fill="#006400"/>
<rect x="1311.65" y="471.95" width="10.7" height="10.7" fill="#006400"/>
<rect x="1329.42" y="471.95" width="10.7" height="10.7" fill="#006400"/>
<rect x="1347.2" y="471.95" width="10.7" height="10.7" fill="#006400"/>
<rect x="1364.97" y="471.95" width="10.7" height="10.7" fill="#006400"/>
<rect x="1382.75" y="471.95" width="10.7" height="10.7" fill="#006400"/>
<rect x="1400.53" y="471.95" width="10.7" height="10.7" fill="#006400"/>
<rect x="1418.3" y="471.95" width="10.7" height="10.7" fill="#006400"/>
<rect x="1436.08" y="471.95" width="10.7" height="10.7" fill="#006400"/>
<rect x="1453.85" y="471.95" width="10.7" height="10.7" fill="#006400"/>
<rect x="1471.62" y="471.95" width="10.7" height="10.7" fill="#006400"/>
<rect x="1489.4" y="471.95" width="10.7" height="10.7" fill="#006400"/>
<rect x="1507.17" y="471.95" width="10.7" height="10.7" fill="#006400"/>
<rect x="1524.95" y="471.95" width="10.7" height="10.7" fill="#006400"/>
<rect x="1542.72" y="471.95" width="10.7" height="10.7" fill="#006400"/>
<rect x="1560.5" y="471.95" width="10.7" height="10.7" fill="#006400"/>
<rect x="1578.28" y="471.95" width="10.7" height="10.7" fill="#006400"/>
<rect x="1596.05" y="471.95" width="10.7" height="10.7" fill="#006400"/>
<rect x="1613.83" y="471.95" width="10.7" height="10.7" fill="#006400"/>
<rect x="1631.6" y="471.95" width="10.7" height="10.7" fill="#006400"/>
<rect x="1649.38" y="470.56" width="10.7" height="10.7" fill="#006400"/>
<rect x="1667.15" y="394.87" width="10.7" height="10.7" fill="#006400"/>
<rect x="1684.92" y="421.09" width="10.7" height="10.7" fill="#006400"/>
<rect x="1702.7" y="361.06" width="10.7" height="10.7" fill="#006400"/>
<rect x="1720.47" y="414.19" width="10.7" height="10.7" fill="#006400"/>
<rect x="1738.25" y="471.95" width="10.7" height="10.7" fill="#006400"/>
<rect x="1756.03" y="349.43" width="10.7" height="10.7" fill="#006400"/>
<rect x="1773.8" y="350.41" width="10.7" height="10.7" fill="#006400"/>
<rect x="1791.58" y="314.83" width="10.7" height="10.7" fill="#006400"/>
<rect x="1809.35" y="350.13" width="10.7" height="10.7" fill="#006400"/>
<rect x="1827.12" y="329.75" width="10.7" height="10.7" fill="#006400"/>
<rect x="1844.9" y="340.08" width="10.7" height="10.7" fill="#006400"/>
<rect x="1862.67" y="460.97" width="10.7" height="10.7" fill="#006400"/>
<rect x="1880.45" y="471.95" width="10.7" height="10.7" fill="#006400"/>
<polyline points="1192.58,477.3 1210.35,477.3 1228.12,477.3 1245.9,477.3 1263.67,477.3 1281.45,477.3 1299.22,466.18 1317,274.88 1334.77,476.37 1352.55,477.3 1370.32,477.3 1388.1,477.3 1405.88,477.3 1423.65,477.3 1441.42,477.3 1459.2,477.3 1476.97,477.3 1494.75,477.3 1512.52,477.3 1530.3,477.3 1548.07,477.3 1565.85,477.3 1583.62,477.3 1601.4,477.3 1619.17,477.3 1636.95,477.3 1654.72,477.3 1672.5,477.3 1690.27,477.3 1708.05,477.3 1725.82,477.3 1743.6,477.3 1761.38,350.52 1779.15,349.6 1796.92,344.5 1814.7,305.17 1832.47,306.1 1850.25,336.95 1868.02,477.3 1885.8,477.3" stroke="#a52a2a" stroke-width="2.7" fill="none" stroke-linejoin="miter"/>
<path d="M1192.58 471.5L1187.58 479.9L1197.58 479.9Z" stroke="#a52a2a" stroke-width="2.7" fill="none" stroke-linejoin="miter" stroke-miterlimit="10"/>
<path d="M1210.35 471.5L1205.35 479.9L1215.35 479.9Z" stroke="#a52a2a" stroke-width="2.7" fill="none" stroke-linejoin="miter" stroke-miterlimit="10"/>
<path d="M1228.12 471.5L1223.12 479.9L1233.12 479.9Z" stroke="#a52a2a" stroke-width="2.7" fill="none" stroke-linejoin="miter" stroke-miterlimit="10"/>
<path d="M1245.9 471.5L1240.9 479.9L1250.9 479.9Z" stroke="#a52a2a" stroke-width="2.7" fill="none" stroke-linejoin="miter" stroke-miterlimit="10"/>
<path d="M1263.67 471.5L1258.67 479.9L1268.67 479.9Z" stroke="#a52a2a" stroke-width="2.7" fill="none" stroke-linejoin="miter" stroke-miterlimit="10"/>
<path d="M1281.45 471.5L1276.45 479.9L1286.45 479.9Z" stroke="#a52a2a" stroke-width="2.7" fill="none" stroke-linejoin="miter" stroke-miterlimit="10"/>
<path d="M1299.22 460.38L1294.22 468.78L1304.22 468.78Z" stroke="#a52a2a" stroke-width="2.7" fill="none" stroke-linejoin="miter" stroke-miterlimit="10"/>
<path d="M1317 269.08L1312 277.48L1322 277.48Z" stroke="#a52a2a" stroke-width="2.7" fill="none" stroke-linejoin="miter" stroke-miterlimit="10"/>
<path d="M1334.77 470.57L1329.77 478.97L1339.77 478.97Z" stroke="#a52a2a" stroke-width="2.7" fill="none" stroke-linejoin="miter" stroke-miterlimit="10"/>
<path d="M1352.55 471.5L1347.55 479.9L1357.55 479.9Z" stroke="#a52a2a" stroke-width="2.7" fill="none" stroke-linejoin="miter" stroke-miterlimit="10"/>
<path d="M1370.32 471.5L1365.32 479.9L1375.32 479.9Z" stroke="#a52a2a" stroke-width="2.7" fill="none" stroke-linejoin="miter" stroke-miterlimit="10"/>
<path d="M1388.1 471.5L1383.1 479.9L1393.1 479.9Z" stroke="#a52a2a" stroke-width="2.7" fill="none" stroke-linejoin="miter" stroke-miterlimit="10"/>
<path d="M1405.88 471.5L1400.88 479.9L1410.88 479.9Z" stroke="#a52a2a" stroke-width="2.7" fill="none" stroke-linejoin="miter" stroke-miterlimit="10"/>
<path d="M1423.65 471.5L1418.65 479.9L1428.65 479.9Z" stroke="#a52a2a" stroke-width="2.7" fill="none" stroke-linejoin="miter" stroke-miterlimit="10"/>
<path d="M1441.42 471.5L1436.42 479.9L1446.42 479.9Z" stroke="#a52a2a" stroke-width="2.7" fill="none" stroke-linejoin="miter" stroke-miterlimit="10"/>
<path d="M1459.2 471.5L1454.2 479.9L1464.2 479.9Z" stroke="#a52a2a" stroke-width="2.7" fill="none" stroke-linejoin="miter" stroke-miterlimit="10"/>
<path d="M1476.97 471.5L1471.97 479.9L1481.97 479.9Z" stroke="#a52a2a" stroke-width="2.7" fill="none" stroke-linejoin="miter" stroke-miterlimit="10"/>
<path d="M1494.75 471.5L1489.75 479.9L1499.75 479.9Z" stroke="#a52a2a" stroke-width="2.7" fill="none" stroke-linejoin="miter" stroke-miterlimit="10"/>
<path d="M1512.52 471.5L1507.52 479.9L1517.52 479.9Z" stroke="#a52a2a" stroke-width="2.7" fill="none" stroke-linejoin="miter" stroke-miterlimit="10"/>
<path d="M1530.3 471.5L1525.3 479.9L1535.3 479.9Z" stroke="#a52a2a" stroke-width="2.7" fill="none" stroke-linejoin="miter" stroke-miterlimit="10"/>
<path d="M1548.07 471.5L1543.07 479.9L1553.07 479.9Z" stroke="#a52a2a" stroke-width="2.7" fill="none" stroke-linejoin="miter" stroke-miterlimit="10"/>
<path d="M1565.85 471.5L1560.85 479.9L1570.85 479.9Z" stroke="#a52a2a" stroke-width="2.7" fill="none" stroke-linejoin="miter" stroke-miterlimit="10"/>
<path d="M1583.62 471.5L1578.62 479.9L1588.62 479.9Z" stroke="#a52a2a" stroke-width="2.7" fill="none" stroke-linejoin="miter" stroke-miterlimit="10"/>
<path d="M1601.4 471.5L1596.4 479.9L1606.4 479.9Z" stroke="#a52a2a" stroke-width="2.7" fill="none" stroke-linejoin="miter" stroke-miterlimit="10"/>
<path d="M1619.17 471.5L1614.17 479.9L1624.17 479.9Z" stroke="#a52a2a" stroke-width="2.7" fill="none" stroke-linejoin="miter" stroke-miterlimit="10"/>
<path d="M1636.95 471.5L1631.95 479.9L1641.95 479.9Z" stroke="#a52a2a" stroke-width="2.7" fill="none" stroke-linejoin="miter" stroke-miterlimit="10"/>
<path d="M1654.72 471.5L1649.72 479.9L1659.72 479.9Z" stroke="#a52a2a" stroke-width="2.7" fill="none" stroke-linejoin="miter" stroke-miterlimit="10"/>
<path d="M1672.5 471.5L1667.5 479.9L1677.5 479.9Z" stroke="#a52a2a" stroke-width="2.7" fill="none" stroke-linejoin="miter" stroke-miterlimit="10"/>
<path d="M1690.27 471.5L1685.27 479.9L1695.27 479.9Z" stroke="#a52a2a" stroke-width="2.7" fill="none" stroke-linejoin="miter" stroke-miterlimit="10"/>
<path d="M1708.05 471.5L1703.05 479.9L1713.05 479.9Z" stroke="#a52a2a" stroke-width="2.7" fill="none" stroke-linejoin="miter" stroke-miterlimit="10"/>
<path d="M1725.82 471.5L1720.82 479.9L1730.82 479.9Z" stroke="#a52a2a" stroke-width="2.7" fill="none" stroke-linejoin="miter" stroke-miterlimit="10"/>
<path d="M1743.6 471.5L1738.6 479.9L1748.6 479.9Z" stroke="#a52a2a" stroke-width="2.7" fill="none" stroke-linejoin="miter" stroke-miterlimit="10"/>
<path d="M1761.38 344.72L1756.38 353.12L1766.38 353.12Z" stroke="#a52a2a" stroke-width="2.7" fill="none" stroke-linejoin="miter" stroke-miterlimit="10"/>
<path d="M1779.15 343.8L1774.15 352.2L1784.15 352.2Z" stroke="#a52a2a" stroke-width="2.7" fill="none" stroke-linejoin="miter" stroke-miterlimit="10"/>
<path d="M1796.92 338.7L1791.92 347.1L1801.92 347.1Z" stroke="#a52a2a" stroke-width="2.7" fill="none" stroke-linejoin="miter" stroke-miterlimit="10"/>
<path d="M1814.7 299.37L1809.7 307.77L1819.7 307.77Z" stroke="#a52a2a" stroke-width="2.7" fill="none" stroke-linejoin="miter" stroke-miterlimit="10"/>
<path d="M1832.47 300.3L1827.47 308.7L1837.47 308.7Z" stroke="#a52a2a" stroke-width="2.7" fill="none" stroke-linejoin="miter" stroke-miterlimit="10"/>
<path d="M1850.25 331.15L1845.25 339.55L1855.25 339.55Z" stroke="#a52a2a" stroke-width="2.7" fill="none" stroke-linejoin="miter" stroke-miterlimit="10"/>
<path d="M1868.02 471.5L1863.02 479.9L1873.02 479.9Z" stroke="#a52a2a" stroke-width="2.7" fill="none" stroke-linejoin="miter" stroke-miterlimit="10"/>
<path d="M1885.8 471.5L1880.8 479.9L1890.8 479.9Z" stroke="#a52a2a" stroke-width="2.7" fill="none" stroke-linejoin="miter" stroke-miterlimit="10"/>
<polyline points="1192.58,477.3 1210.35,477.3 1228.12,477.3 1245.9,477.3 1263.67,477.3 1281.45,477.3 1299.22,477.3 1317,261.59 1334.77,445.34 1352.55,477.3 1370.32,477.3 1388.1,477.3 1405.88,477.3 1423.65,477.3 1441.42,477.3 1459.2,477.3 1476.97,477.3 1494.75,477.3 1512.52,477.3 1530.3,477.3 1548.07,477.3 1565.85,477.3 1583.62,477.3 1601.4,477.3 1619.17,477.3 1636.95,477.3 1654.72,477.3 1672.5,477.3 1690.27,477.3 1708.05,415.42 1725.82,377.53 1743.6,446.31 1761.38,354.78 1779.15,316.43 1796.92,326.76 1814.7,354.78 1832.47,334.22 1850.25,335.14 1868.02,477.3 1885.8,477.3" stroke="#b0c4de" stroke-width="2.7" fill="none" stroke-linejoin="miter"/>
<circle cx="1192.58" cy="477.3" r="5.25" stroke="#b0c4de" stroke-width="2.8" fill="none"/>
<circle cx="1210.35" cy="477.3" r="5.25" stroke="#b0c4de" stroke-width="2.8" fill="none"/>
<circle cx="1228.12" cy="477.3" r="5.25" stroke="#b0c4de" stroke-width="2.8" fill="none"/>
<circle cx="1245.9" cy="477.3" r="5.25" stroke="#b0c4de" stroke-width="2.8" fill="none"/>
<circle cx="1263.67" cy="477.3" r="5.25" stroke="#b0c4de" stroke-width="2.8" fill="none"/>
<circle cx="1281.45" cy="477.3" r="5.25" stroke="#b0c4de" stroke-width="2.8" fill="none"/>
<circle cx="1299.22" cy="477.3" r="5.25" stroke="#b0c4de" stroke-width="2.8" fill="none"/>
<circle cx="1317" cy="261.59" r="5.25" stroke="#b0c4de" stroke-width="2.8" fill="none"/>
<circle cx="1334.77" cy="445.34" r="5.25" stroke="#b0c4de" stroke-width="2.8" fill="none"/>
<circle cx="1352.55" cy="477.3" r="5.25" stroke="#b0c4de" stroke-width="2.8" fill="none"/>
<circle cx="1370.32" cy="477.3" r="5.25" stroke="#b0c4de" stroke-width="2.8" fill="none"/>
<circle cx="1388.1" cy="477.3" r="5.25" stroke="#b0c4de" stroke-width="2.8" fill="none"/>
<circle cx="1405.88" cy="477.3" r="5.25" stroke="#b0c4de" stroke-width="2.8" fill="none"/>
<circle cx="1423.65" cy="477.3" r="5.25" stroke="#b0c4de" stroke-width="2.8" fill="none"/>
<circle cx="1441.42" cy="477.3" r="5.25" stroke="#b0c4de" stroke-width="2.8" fill="none"/>
<circle cx="1459.2" cy="477.3" r="5.25" stroke="#b0c4de" stroke-width="2.8" fill="none"/>
<circle cx="1476.97" cy="477.3" r="5.25" stroke="#b0c4de" stroke-width="2.8" fill="none"/>
<circle cx="1494.75" cy="477.3" r="5.25" stroke="#b0c4de" stroke-width="2.8" fill="none"/>
<circle cx="1512.52" cy="477.3" r="5.25" stroke="#b0c4de" stroke-width="2.8" fill="none"/>
<circle cx="1530.3" cy="477.3" r="5.25" stroke="#b0c4de" stroke-width="2.8" fill="none"/>
<circle cx="1548.07" cy="477.3" r="5.25" stroke="#b0c4de" stroke-width="2.8" fill="none"/>
<circle cx="1565.85" cy="477.3" r="5.25" stroke="#b0c4de" stroke-width="2.8" fill="none"/>
<circle cx="1583.62" cy="477.3" r="5.25" stroke="#b0c4de" stroke-width="2.8" fill="none"/>
<circle cx="1601.4" cy="477.3" r="5.25" stroke="#b0c4de" stroke-width="2.8" fill="none"/>
<circle cx="1619.17" cy="477.3" r="5.25" stroke="#b0c4de" stroke-width="2.8" fill="none"/>
<circle cx="1636.95" cy="477.3" r="5.25" stroke="#b0c4de" stroke-width="2.8" fill="none"/>
<circle cx="1654.72" cy="477.3" r="5.25" stroke="#b0c4de" stroke-width="2.8" fill="none"/>
<circle cx="1672.5" cy="477.3" r="5.25" stroke="#b0c4de" stroke-width="2.8" fill="none"/>
<circle cx="1690.27" cy="477.3" r="5.25" stroke="#b0c4de" stroke-width="2.8" fill="none"/>
<circle cx="1708.05" cy="415.42" r="5.25" stroke="#b0c4de" stroke-width="2.8" fill="none"/>
<circle cx="1725.82" cy="377.53" r="5.25" stroke="#b0c4de" stroke-width="2.8" fill="none"/>
<circle cx="1743.6" cy="446.31" r="5.25" stroke="#b0c4de" stroke-width="2.8" fill="none"/>
<circle cx="1761.38" cy="354.78" r="5.25" stroke="#b0c4de" stroke-width="2.8" fill="none"/>
<circle cx="1779.15" cy="316.43" r="5.25" stroke="#b0c4de" stroke-width="2.8" fill="none"/>
<circle cx="1796.92" cy="326.76" r="5.25" stroke="#b0c4de" stroke-width="2.8" fill="none"/>
<circle cx="1814.7" cy="354.78" r="5.25" stroke="#b0c4de" stroke-width="2.8" fill="none"/>
<circle cx="1832.47" cy="334.22" r="5.25" stroke="#b0c4de" stroke-width="2.8" fill="none"/>
<circle cx="1850.25" cy="335.14" r="5.25" stroke="#b0c4de" stroke-width="2.8" fill="none"/>
<circle cx="1868.02" cy="477.3" r="5.25" stroke="#b0c4de" stroke-width="2.8" fill="none"/>
<circle cx="1885.8" cy="477.3" r="5.25" stroke="#b0c4de" stroke-width="2.8" fill="none"/>
<rect x="1174.8" y="14.1" width="711" height="463.2" fill="none" stroke="#000" stroke-width="3.1"/>
</g>
<g id="labels">
<text transform="translate(159.4 490.2) scale(0.98 1.04)" text-anchor="end" font-size="38.7">0</text>
<text transform="translate(159.4 397.56) scale(0.98 1.04)" text-anchor="end" font-size="38.7">20000</text>
<text transform="translate(159.4 304.92) scale(0.98 1.04)" text-anchor="end" font-size="38.7">40000</text>
<text transform="translate(159.4 212.28) scale(0.98 1.04)" text-anchor="end" font-size="38.7">60000</text>
<text transform="translate(159.4 119.64) scale(0.98 1.04)" text-anchor="end" font-size="38.7">80000</text>
<text transform="translate(159.4 27) scale(0.98 1.04)" text-anchor="end" font-size="38.7">100000</text>
<text transform="translate(187.4 527.9) scale(0.955 0.99)" text-anchor="middle" font-size="38.7">0</text>
<text transform="translate(274.17 527.9) scale(0.955 0.99)" text-anchor="middle" font-size="38.7">5</text>
<text transform="translate(360.94 527.9) scale(0.955 0.99)" text-anchor="middle" font-size="38.7">10</text>
<text transform="translate(447.7 527.9) scale(0.955 0.99)" text-anchor="middle" font-size="38.7">15</text>
<text transform="translate(534.47 527.9) scale(0.955 0.99)" text-anchor="middle" font-size="38.7">20</text>
<text transform="translate(621.24 527.9) scale(0.955 0.99)" text-anchor="middle" font-size="38.7">25</text>
<text transform="translate(708.01 527.9) scale(0.955 0.99)" text-anchor="middle" font-size="38.7">30</text>
<text transform="translate(794.78 527.9) scale(0.955 0.99)" text-anchor="middle" font-size="38.7">35</text>
<text transform="translate(881.55 527.9) scale(0.955 0.99)" text-anchor="middle" font-size="38.7">40</text>
<text transform="translate(1151.2 490.2) scale(0.98 1.04)" text-anchor="end" font-size="38.7">0</text>
<text transform="translate(1151.2 397.56) scale(0.98 1.04)" text-anchor="end" font-size="38.7">20000</text>
<text transform="translate(1151.2 304.92) scale(0.98 1.04)" text-anchor="end" font-size="38.7">40000</text>
<text transform="translate(1151.2 212.28) scale(0.98 1.04)" text-anchor="end" font-size="38.7">60000</text>
<text transform="translate(1151.2 119.64) scale(0.98 1.04)" text-anchor="end" font-size="38.7">80000</text>
<text transform="translate(1151.2 27) scale(0.98 1.04)" text-anchor="end" font-size="38.7">100000</text>
<text transform="translate(1179.2 527.9) scale(0.955 0.99)" text-anchor="middle" font-size="38.7">0</text>
<text transform="translate(1268.08 527.9) scale(0.955 0.99)" text-anchor="middle" font-size="38.7">5</text>
<text transform="translate(1356.95 527.9) scale(0.955 0.99)" text-anchor="middle" font-size="38.7">10</text>
<text transform="translate(1445.83 527.9) scale(0.955 0.99)" text-anchor="middle" font-size="38.7">15</text>
<text transform="translate(1534.7 527.9) scale(0.955 0.99)" text-anchor="middle" font-size="38.7">20</text>
<text transform="translate(1623.58 527.9) scale(0.955 0.99)" text-anchor="middle" font-size="38.7">25</text>
<text transform="translate(1712.45 527.9) scale(0.955 0.99)" text-anchor="middle" font-size="38.7">30</text>
<text transform="translate(1801.33 527.9) scale(0.955 0.99)" text-anchor="middle" font-size="38.7">35</text>
<text transform="translate(1890.2 527.9) scale(0.955 0.99)" text-anchor="middle" font-size="38.7">40</text>
<text x="538.6" y="566.9" text-anchor="middle" font-size="38.45">Execution time (x 5 seconds)</text>
<text x="1530.3" y="566.9" text-anchor="middle" font-size="38.45">Execution time (x 5 seconds)</text>
<text transform="translate(27.4 245.2) rotate(-90)" text-anchor="middle" font-size="38.35">Receive Throughput (Kb/s)</text>
<text transform="translate(1019.2 245.2) rotate(-90)" text-anchor="middle" font-size="38.35">Receive Throughput (Kb/s)</text>
<text transform="translate(479.7 630.4) scale(1.022 1)" text-anchor="middle" font-size="40.5">(a) Hadoop network consumption</text>
<text transform="translate(1470 630.4) scale(1.022 1)" text-anchor="middle" font-size="40.5">(b) Spark network consumption</text>
</g>
</svg>
</body></html>
